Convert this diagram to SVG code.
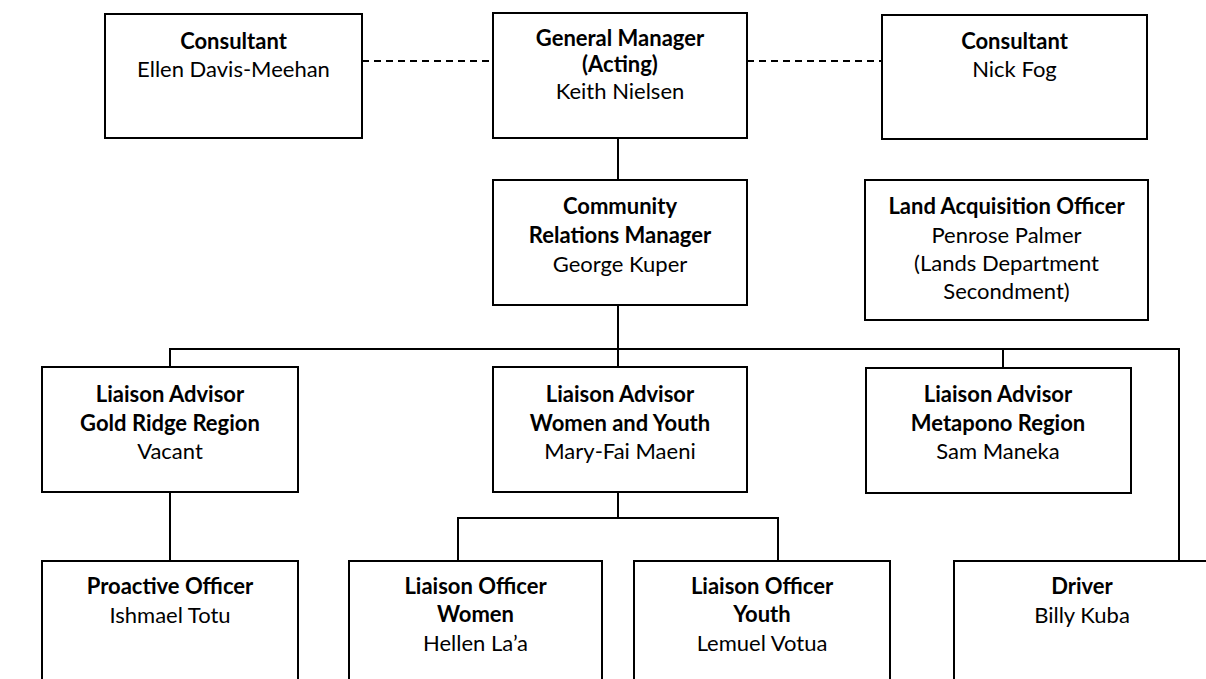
<svg xmlns="http://www.w3.org/2000/svg" width="1206" height="679" viewBox="0 0 1206 679">
<style>
.box{fill:#fff;stroke:#000;stroke-width:2}
.ln{fill:none;stroke:#000;stroke-width:2}
.dash{fill:none;stroke:#000;stroke-width:2;stroke-dasharray:7 5}
text{font-family:Lato,"Open Sans",sans-serif;font-size:22px;text-anchor:middle;fill:#000}
.b{font-weight:bold}
</style>
<rect width="1206" height="679" fill="#fff"/>
<g id="connectors">
<line class="dash" x1="362" y1="61" x2="493" y2="61"/>
<line class="dash" x1="747" y1="61" x2="882" y2="61"/>
<line class="ln" x1="618" y1="138" x2="618" y2="180"/>
<line class="ln" x1="618" y1="305" x2="618" y2="349"/>
<polyline class="ln" points="170,367 170,349 1179,349 1179,561"/>
<line class="ln" x1="618" y1="349" x2="618" y2="367"/>
<line class="ln" x1="1003" y1="349" x2="1003" y2="368"/>
<line class="ln" x1="170" y1="492" x2="170" y2="561"/>
<line class="ln" x1="618" y1="492" x2="618" y2="518"/>
<polyline class="ln" points="458,561 458,518 778,518 778,561"/>
</g>
<g id="consultant-left">
<rect class="box" x="105" y="14" width="257" height="124"/>
<text x="233.5" y="49" class="b">Consultant</text>
<text x="233.5" y="77">Ellen Davis-Meehan</text>
</g>
<g id="general-manager">
<rect class="box" x="493" y="13" width="254" height="125"/>
<text x="620" y="46" class="b">General Manager</text>
<text x="620" y="72" class="b">(Acting)</text>
<text x="620" y="99">Keith Nielsen</text>
</g>
<g id="consultant-right">
<rect class="box" x="882" y="15" width="265" height="124"/>
<text x="1014.5" y="49" class="b">Consultant</text>
<text x="1014.5" y="77">Nick Fog</text>
</g>
<g id="community-relations-manager">
<rect class="box" x="493" y="180" width="254" height="125"/>
<text x="620" y="214" class="b">Community</text>
<text x="620" y="243" class="b">Relations Manager</text>
<text x="620" y="272">George Kuper</text>
</g>
<g id="land-acquisition-officer">
<rect class="box" x="865" y="180" width="283" height="140"/>
<text x="1006.5" y="214" class="b">Land Acquisition Officer</text>
<text x="1006.5" y="243">Penrose Palmer</text>
<text x="1006.5" y="271">(Lands Department</text>
<text x="1006.5" y="299">Secondment)</text>
</g>
<g id="liaison-advisor-gold-ridge">
<rect class="box" x="42" y="367" width="256" height="125"/>
<text x="170" y="402" class="b">Liaison Advisor</text>
<text x="170" y="431" class="b">Gold Ridge Region</text>
<text x="170" y="459">Vacant</text>
</g>
<g id="liaison-advisor-women-youth">
<rect class="box" x="493" y="367" width="254" height="125"/>
<text x="620" y="402" class="b">Liaison Advisor</text>
<text x="620" y="431" class="b">Women and Youth</text>
<text x="620" y="459">Mary-Fai Maeni</text>
</g>
<g id="liaison-advisor-metapono">
<rect class="box" x="866" y="368" width="265" height="125"/>
<text x="998" y="402" class="b">Liaison Advisor</text>
<text x="998" y="431" class="b">Metapono Region</text>
<text x="998" y="459">Sam Maneka</text>
</g>
<g id="proactive-officer">
<rect class="box" x="42" y="561" width="256" height="130"/>
<text x="170" y="594" class="b">Proactive Officer</text>
<text x="170" y="623">Ishmael Totu</text>
</g>
<g id="liaison-officer-women">
<rect class="box" x="349" y="561" width="253" height="130"/>
<text x="475.5" y="594" class="b">Liaison Officer</text>
<text x="475.5" y="622" class="b">Women</text>
<text x="475.5" y="651">Hellen La’a</text>
</g>
<g id="liaison-officer-youth">
<rect class="box" x="634" y="561" width="256" height="130"/>
<text x="762" y="594" class="b">Liaison Officer</text>
<text x="762" y="622" class="b">Youth</text>
<text x="762" y="651">Lemuel Votua</text>
</g>
<g id="driver">
<rect class="box" x="954" y="561" width="256" height="130"/>
<text x="1082" y="594" class="b">Driver</text>
<text x="1082" y="623">Billy Kuba</text>
</g>
</svg>
